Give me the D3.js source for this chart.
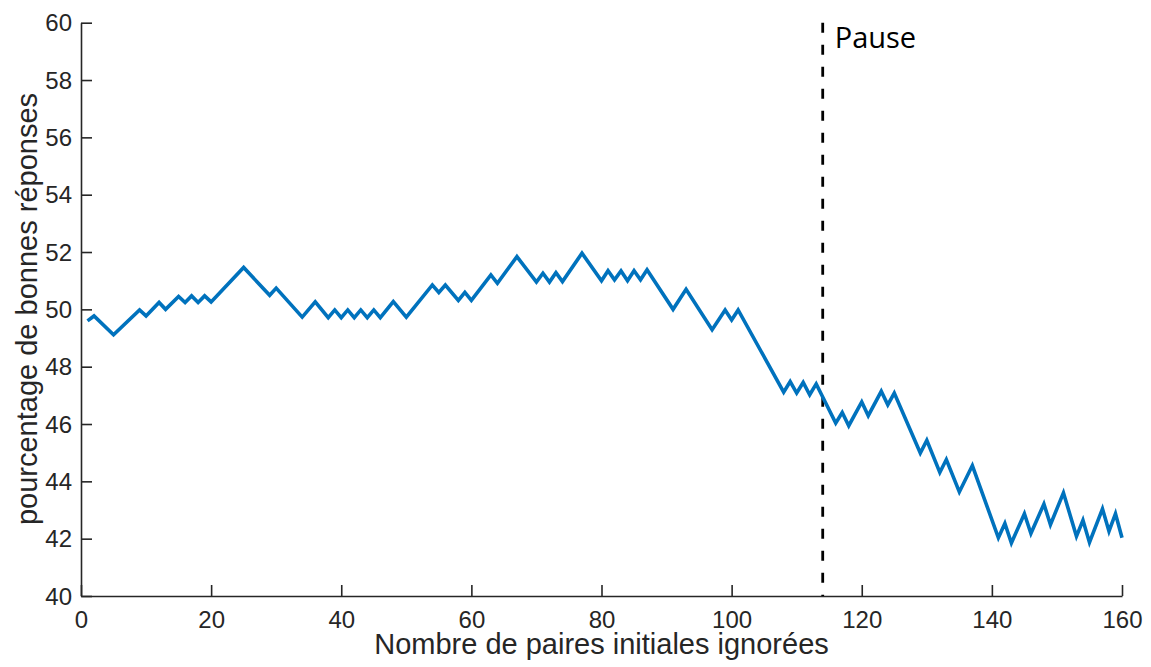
<!DOCTYPE html>
<html>
<head>
<meta charset="utf-8">
<script src="https://cdn.jsdelivr.net/npm/d3@7"></script>
<style>
  html, body { margin: 0; padding: 0; background: #fff; }
  svg { display: block; }
</style>
</head>
<body>
<svg id="chart" width="1151" height="667"></svg>
<script>
// Data (vertices of the curve)
const pairsIgnored = [1, 2, 5, 9, 10, 12, 13, 15, 16, 17, 18, 19, 20, 25, 29, 30, 34, 36, 38, 39, 40, 41, 42, 43, 44, 45, 46, 48, 50, 54, 55, 56, 58, 59, 60, 63, 64, 67, 70, 71, 72, 73, 74, 77, 80, 81, 82, 83, 84, 85, 86, 87, 91, 93, 97, 99, 100, 101, 108, 109, 110, 111, 112, 113, 116, 117, 118, 120, 121, 123, 124, 125, 129, 130, 132, 133, 135, 137, 141, 142, 143, 145, 146, 148, 149, 151, 153, 154, 155, 157, 158, 159, 160];
const percentCorrect = [49.6, 49.77, 49.11, 49.98, 49.77, 50.24, 50.0, 50.45, 50.24, 50.47, 50.24, 50.47, 50.26, 51.46, 50.49, 50.74, 49.73, 50.26, 49.71, 49.98, 49.71, 49.98, 49.71, 49.98, 49.71, 49.98, 49.71, 50.27, 49.73, 50.85, 50.59, 50.85, 50.31, 50.59, 50.31, 51.2, 50.91, 51.84, 50.95, 51.26, 50.95, 51.28, 50.97, 51.96, 51.0, 51.35, 51.03, 51.34, 51.0, 51.35, 51.03, 51.38, 50.0, 50.7, 49.29, 49.98, 49.63, 49.98, 47.11, 47.48, 47.08, 47.45, 47.02, 47.4, 46.03, 46.4, 45.94, 46.77, 46.29, 47.14, 46.67, 47.08, 44.99, 45.43, 44.31, 44.76, 43.63, 44.55, 42.03, 42.53, 41.85, 42.87, 42.18, 43.21, 42.49, 43.6, 42.08, 42.64, 41.87, 43.04, 42.26, 42.87, 42.03];
const xTicks = [0, 20, 40, 60, 80, 100, 120, 140, 160];
const yTicks = [40, 42, 44, 46, 48, 50, 52, 54, 56, 58, 60];
const pauseX = 114;
const pauseLabel = "Pause";
const xLabel = "Nombre de paires initiales ignorées";
const yLabel = "pourcentage de bonnes réponses";

const svg = d3.select("#chart");
const plotLeft = 81, plotRight = 1122, plotTop = 22.7, plotBottom = 596;

const x = d3.scaleLinear().domain([0, 160]).range([plotLeft, plotRight]);
const y = d3.scaleLinear().domain([40, 60]).range([plotBottom, plotTop]);

const axisColor = "#262626";
const tickFont = "'Liberation Sans', Arial, Helvetica, sans-serif";

// X axis (ticks inward)
const xAxis = svg.append("g")
  .attr("transform", `translate(0,${plotBottom})`)
  .call(d3.axisBottom(x).tickValues(xTicks).tickSizeInner(-11).tickSizeOuter(0).tickPadding(0));
xAxis.select(".domain").attr("stroke", axisColor).attr("stroke-width", 1.6);
xAxis.selectAll(".tick line").attr("stroke", axisColor).attr("stroke-width", 1.6);
xAxis.selectAll(".tick text")
  .attr("fill", axisColor)
  .attr("font-family", tickFont)
  .attr("font-size", 24)
  .attr("dy", null)
  .attr("y", 32);

// Y axis (ticks inward)
const yAxis = svg.append("g")
  .attr("transform", `translate(${plotLeft},0)`)
  .call(d3.axisLeft(y).tickValues(yTicks).tickSizeInner(-11).tickSizeOuter(0).tickPadding(0));
yAxis.select(".domain").attr("stroke", axisColor).attr("stroke-width", 1.6);
yAxis.selectAll(".tick line").attr("stroke", axisColor).attr("stroke-width", 1.6);
yAxis.selectAll(".tick text")
  .attr("fill", axisColor)
  .attr("font-family", tickFont)
  .attr("font-size", 24)
  .attr("x", -9)
  .attr("dy", "0.34em");

// Pause dashed line
svg.append("line")
  .attr("x1", x(pauseX)).attr("x2", x(pauseX))
  .attr("y1", y(60)).attr("y2", y(40))
  .attr("stroke", "#000")
  .attr("stroke-width", 2.8)
  .attr("stroke-dasharray", "10,12");

svg.append("text")
  .attr("x", x(pauseX) + 12)
  .attr("y", 47.5)
  .attr("font-family", "'Open Sans', 'Noto Sans', sans-serif")
  .attr("font-size", 29)
  .attr("fill", "#000")
  .text(pauseLabel);

// Data line
const data = pairsIgnored.map((d, i) => ({ x: d, y: percentCorrect[i] }));
svg.append("path")
  .datum(data)
  .attr("fill", "none")
  .attr("stroke", "#0072BD")
  .attr("stroke-width", 3.6)
  .attr("stroke-linejoin", "miter")
  .attr("d", d3.line().x(d => x(d.x)).y(d => y(d.y)));

// Axis labels
svg.append("text")
  .attr("x", (plotLeft + plotRight) / 2)
  .attr("y", 654)
  .attr("text-anchor", "middle")
  .attr("font-family", tickFont)
  .attr("font-size", 29)
  .attr("fill", axisColor)
  .text(xLabel);

svg.append("text")
  .attr("transform", `translate(36.5,309) rotate(-90)`)
  .attr("text-anchor", "middle")
  .attr("font-family", tickFont)
  .attr("font-size", 29)
  .attr("fill", axisColor)
  .text(yLabel);
</script>
</body>
</html>
